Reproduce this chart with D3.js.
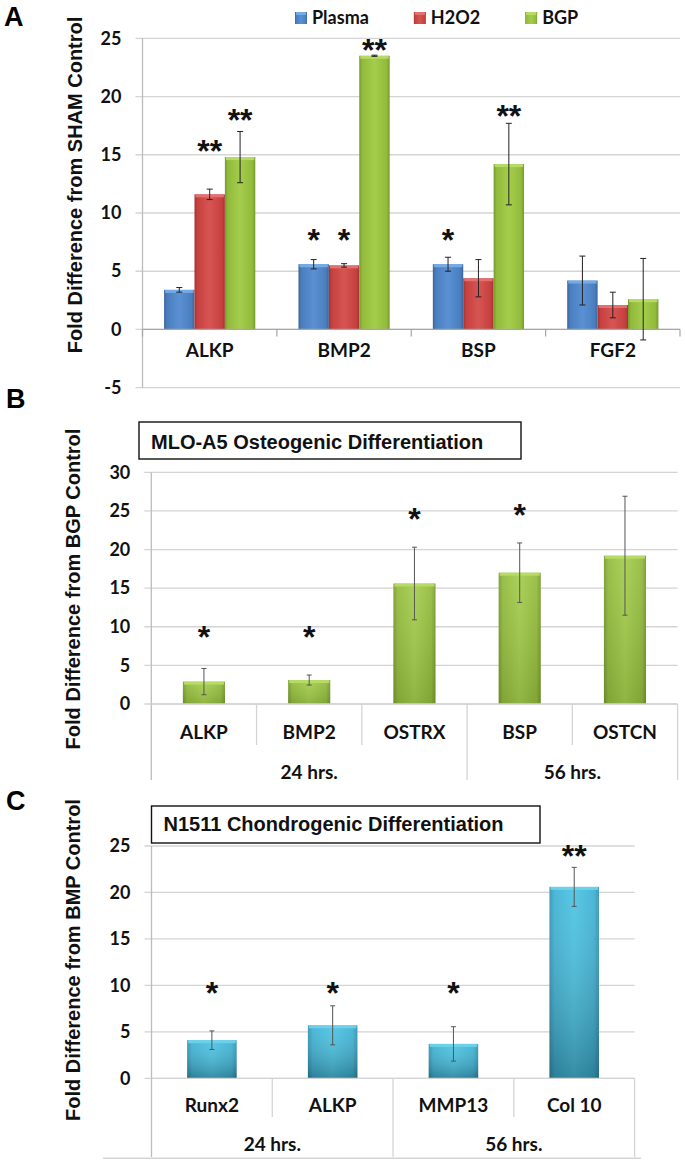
<!DOCTYPE html>
<html><head><meta charset="utf-8">
<script src="https://cdn.jsdelivr.net/npm/d3@7/dist/d3.min.js"></script>
<style>body{margin:0;background:#fff} svg{display:block}</style>
</head><body>
<svg id="chart" width="685" height="1163"></svg>
<script>
// ---------- Panel A data ----------
const catsA = ["ALKP", "BMP2", "BSP", "FGF2"];
const seriesA = ["Plasma", "H2O2", "BGP"];
const plasmaA = [3.4, 5.6, 5.6, 4.2];
const plasmaErrA = [0.2, 0.4, 0.6, 2.1];
const h2o2A = [11.6, 5.5, 4.4, 2.1];
const h2o2ErrA = [0.45, 0.15, 1.6, 1.1];
const bgpA = [14.8, 23.5, 14.2, 2.6];
const bgpErrA = [2.2, 0.05, 3.5, 3.5];
const plasmaSigA = ["", "*", "*", ""];
const plasmaSigLevelA = [null, 8.3, 8.3, null];
const h2o2SigA = ["**", "*", "", ""];
const h2o2SigLevelA = [16.0, 8.3, null, null];
const bgpSigA = ["**", "**", "**", ""];
const bgpSigLevelA = [18.6, 24.6, 19.0, null];
const ticksA = [-5, 0, 5, 10, 15, 20, 25];

// ---------- Panel B data ----------
const catsB = ["ALKP", "BMP2", "OSTRX", "BSP", "OSTCN"];
const groupLabelsB = ["24 hrs.", "56 hrs."];
const groupOfB = [0, 0, 0, 1, 1];
const valuesB = [2.9, 3.1, 15.6, 17.0, 19.2];
const errB = [1.7, 0.65, 4.7, 3.85, 7.7];
const sigB = ["*", "*", "*", "*", ""];
const sigLevelB = [9.6, 9.6, 24.9, 25.5, null];
const ticksB = [0, 5, 10, 15, 20, 25, 30];

// ---------- Panel C data ----------
const catsC = ["Runx2", "ALKP", "MMP13", "Col 10"];
const groupLabelsC = ["24 hrs.", "56 hrs."];
const groupOfC = [0, 0, 1, 1];
const valuesC = [4.1, 5.7, 3.7, 20.6];
const errC = [1.0, 2.1, 1.85, 2.1];
const sigC = ["*", "*", "*", "**"];
const sigLevelC = [10.0, 10.0, 10.0, 24.7];
const ticksC = [0, 5, 10, 15, 20, 25];

// ---------- styling ----------
const CAL = "Lato, 'Open Sans', sans-serif";
const ARB = "'Liberation Sans', Arial, sans-serif";
const GRID = "#d4d4d4";
const AXIS = "#bcbcbc";

const svg = d3.select("#chart");
const defs = svg.append("defs");

function hGrad(id, dark, base, light) {
  const g = defs.append("linearGradient").attr("id", id)
    .attr("x1", 0).attr("x2", 1).attr("y1", 0).attr("y2", 0);
  [[0, dark], [0.1, base], [0.5, light], [0.9, base], [1, dark]]
    .forEach(([o, c]) => g.append("stop").attr("offset", o).attr("stop-color", c));
}
function vShade(id, op) {
  const g = defs.append("linearGradient").attr("id", id)
    .attr("x1", 0).attr("x2", 0).attr("y1", 0).attr("y2", 1);
  g.append("stop").attr("offset", 0).attr("stop-color", "#fff").attr("stop-opacity", 0.08);
  g.append("stop").attr("offset", 1).attr("stop-color", "#000").attr("stop-opacity", op);
}
hGrad("gBlue", "#3b659c", "#4a7ebe", "#5a91d4");
hGrad("gRed", "#a53331", "#c6403e", "#d65553");
hGrad("gGreen", "#77992f", "#92bb3c", "#a4cd4c");
hGrad("gCyan", "#2f92b0", "#3cb1d3", "#49c3e3");
vShade("vsLight", 0.12);
vShade("vsStrong", 0.28);
const colorA = {Plasma: "url(#gBlue)", H2O2: "url(#gRed)", BGP: "url(#gGreen)"};
const capA = {Plasma: "#7aaee8", H2O2: "#e57674", BGP: "#b9de68"};

function drawBar(g, x, y0, y1, w, fill, cap, shade) {
  const top = Math.min(y0, y1), h = Math.abs(y1 - y0);
  g.append("rect").attr("x", x).attr("y", top).attr("width", w).attr("height", h).attr("fill", fill);
  if (shade) g.append("rect").attr("x", x).attr("y", top).attr("width", w).attr("height", h).attr("fill", shade);
  g.append("rect").attr("x", x + 1).attr("y", top).attr("width", w - 2).attr("height", Math.min(3, h)).attr("fill", cap).attr("opacity", 0.9);
}
function drawErr(g, cx, yTop, yBot, color, capW) {
  g.append("line").attr("x1", cx).attr("x2", cx).attr("y1", yTop).attr("y2", yBot).attr("stroke", color).attr("stroke-width", 1);
  [yTop, yBot].forEach(yy => g.append("line").attr("x1", cx - capW / 2).attr("x2", cx + capW / 2)
    .attr("y1", yy).attr("y2", yy).attr("stroke", color).attr("stroke-width", 1));
}
function drawStar(g, cx, cy, txt) {
  g.append("text").attr("x", cx).attr("y", cy + 18.5).attr("text-anchor", "middle")
    .attr("font-family", ARB).attr("font-weight", "bold").attr("font-size", 32).attr("fill", "#111").text(txt);
}
function yAxisTicks(g, y, ticks, L, R, tickOut) {
  g.append("g").selectAll("line").data(ticks).join("line")
    .attr("x1", L - tickOut).attr("x2", R).attr("y1", d => y(d)).attr("y2", d => y(d))
    .attr("stroke", GRID).attr("stroke-width", 1.3);
  const ax = g.append("g").attr("transform", `translate(${L - tickOut - 14},0)`)
    .call(d3.axisLeft(y).tickValues(ticks).tickSize(0).tickPadding(0).tickFormat(d => String(d)));
  ax.select(".domain").remove();
  ax.selectAll("text").attr("font-family", CAL).attr("font-weight", "bold").attr("font-size", 18).attr("fill", "#111");
}
function yTitle(g, cx, cy, txt) {
  g.append("text").attr("transform", `translate(${cx},${cy}) rotate(-90)`)
    .attr("text-anchor", "middle").attr("dy", "0.35em")
    .attr("font-family", ARB).attr("font-weight", "bold").attr("font-size", 20).attr("fill", "#111").text(txt);
}
function panelLetter(x, y, t) {
  svg.append("text").attr("x", x).attr("y", y).attr("font-family", ARB).attr("font-weight", "bold")
    .attr("font-size", 27).attr("fill", "#000").text(t);
}

// ================= PANEL A =================
(function () {
  const L = 142.5, R = 680;
  const g = svg.append("g");
  const y = d3.scaleLinear().domain([-5, 25]).range([387.7, 38.3]);
  const cell = d3.scaleBand().domain(catsA).range([L, R]);
  const x1 = d3.scaleBand().domain(seriesA).range([0, cell.bandwidth()]).paddingInner(0).paddingOuter(0.71);
  yAxisTicks(g, y, ticksA, L, R, 7);
  g.append("line").attr("x1", L).attr("x2", L).attr("y1", y(25)).attr("y2", y(-5)).attr("stroke", AXIS).attr("stroke-width", 1.3);
  const data = {Plasma: [plasmaA, plasmaErrA, plasmaSigA, plasmaSigLevelA],
                H2O2: [h2o2A, h2o2ErrA, h2o2SigA, h2o2SigLevelA],
                BGP: [bgpA, bgpErrA, bgpSigA, bgpSigLevelA]};
  seriesA.forEach(s => {
    const [vals] = data[s];
    catsA.forEach((c, i) => {
      drawBar(g, cell(c) + x1(s), y(0), y(vals[i]), x1.bandwidth(), colorA[s], capA[s], null);
    });
  });
  g.append("line").attr("x1", L).attr("x2", R).attr("y1", y(0)).attr("y2", y(0)).attr("stroke", "#a6a6a6").attr("stroke-width", 1.3);
  const bounds = catsA.map(c => cell(c)).concat([R]);
  g.append("g").selectAll("line").data(bounds).join("line")
    .attr("x1", d => d).attr("x2", d => d).attr("y1", y(0)).attr("y2", y(0) + 7)
    .attr("stroke", "#a6a6a6").attr("stroke-width", 1.2);
  seriesA.forEach(s => {
    const [vals, errs, sigs, lv] = data[s];
    catsA.forEach((c, i) => {
      const cx = cell(c) + x1(s) + x1.bandwidth() / 2;
      drawErr(g, cx, y(vals[i] + errs[i]), y(vals[i] - errs[i]), "#222", 6);
      if (sigs[i]) drawStar(g, cx, y(lv[i]), sigs[i]);
    });
  });
  g.append("g").selectAll("text").data(catsA).join("text")
    .attr("x", d => cell(d) + cell.bandwidth() / 2).attr("y", y(0) + 28).attr("text-anchor", "middle")
    .attr("font-family", CAL).attr("font-weight", "bold").attr("font-size", 19).attr("fill", "#111").text(d => d);
  yTitle(g, 75, 185, "Fold Difference from SHAM Control");
  const lg = g.append("g");
  let lx = 295;
  seriesA.forEach(s => {
    drawBar(lg, lx, 24, 12, 12, colorA[s], capA[s], null);
    const t = lg.append("text").attr("x", lx + 17).attr("y", 24).attr("font-family", CAL)
      .attr("font-weight", "bold").attr("font-size", 18).attr("fill", "#111").text(s);
    lx += 17 + t.node().getComputedTextLength() + 45;
  });
  panelLetter(4, 26, "A");
})();

// ============ generic grouped-category panel (B, C) ============
function groupedPanel(opt) {
  const {cats, groupOf, groupLabels, values, errs, sigs, sigLevels, ticks, L, R, yTop, y0, lineBottom,
         catSepBottom, catLabelY, groupLabelY, fill, shade, cap, title, box, titleBaseline, yTitleText, yTitleCY, barPadIn, barPadOut, capW} = opt;
  const g = svg.append("g");
  const y = d3.scaleLinear().domain([0, d3.max(ticks)]).range([y0, yTop]);
  const cell = d3.scaleBand().domain(cats).range([L, R]);
  const xb = d3.scaleBand().domain(cats).range([L, R]).paddingInner(barPadIn).paddingOuter(barPadOut);
  yAxisTicks(g, y, ticks, L, R, 7);
  g.append("line").attr("x1", L).attr("x2", L).attr("y1", y(d3.max(ticks))).attr("y2", lineBottom).attr("stroke", AXIS).attr("stroke-width", 1.3);
  g.append("line").attr("x1", R).attr("x2", R).attr("y1", y(0)).attr("y2", lineBottom).attr("stroke", GRID).attr("stroke-width", 1.3);
  cats.forEach((c, i) => {
    if (i === 0) return;
    const newGroup = groupOf[i] !== groupOf[i - 1];
    g.append("line").attr("x1", cell(c)).attr("x2", cell(c)).attr("y1", y(0))
      .attr("y2", newGroup ? lineBottom : catSepBottom).attr("stroke", GRID).attr("stroke-width", 1.3);
  });
  cats.forEach((c, i) => {
    drawBar(g, xb(c), y(0), y(values[i]), xb.bandwidth(), fill, cap, shade);
  });
  g.append("line").attr("x1", L).attr("x2", R).attr("y1", y(0)).attr("y2", y(0)).attr("stroke", GRID).attr("stroke-width", 1.3);
  cats.forEach((c, i) => {
    const cx = xb(c) + xb.bandwidth() / 2;
    drawErr(g, cx, y(values[i] + errs[i]), y(values[i] - errs[i]), "#555", capW);
    if (sigs[i]) drawStar(g, cx, y(sigLevels[i]), sigs[i]);
  });
  g.append("g").selectAll("text").data(cats).join("text")
    .attr("x", d => cell(d) + cell.bandwidth() / 2).attr("y", catLabelY).attr("text-anchor", "middle").attr("dy", "0.35em")
    .attr("font-family", CAL).attr("font-weight", "bold").attr("font-size", 19).attr("fill", "#111").text(d => d);
  groupLabels.forEach((gl, gi) => {
    const members = cats.filter((c, i) => groupOf[i] === gi);
    const x0 = cell(members[0]), x1 = cell(members[members.length - 1]) + cell.bandwidth();
    g.append("text").attr("x", (x0 + x1) / 2).attr("y", groupLabelY).attr("dy", "0.35em").attr("text-anchor", "middle")
      .attr("font-family", CAL).attr("font-weight", "bold").attr("font-size", 19).attr("fill", "#111").text(gl);
  });
  g.append("rect").attr("x", box[0]).attr("y", box[1]).attr("width", box[2]).attr("height", box[3])
    .attr("fill", "#fff").attr("stroke", "#111").attr("stroke-width", 1.4);
  g.append("text").attr("x", box[0] + 12).attr("y", titleBaseline).attr("font-family", ARB).attr("font-weight", "bold")
    .attr("font-size", 20).attr("fill", "#111").text(title);
  yTitle(g, 73, yTitleCY, yTitleText);
  return g;
}

groupedPanel({
  cats: catsB, groupOf: groupOfB, groupLabels: groupLabelsB, values: valuesB, errs: errB, sigs: sigB, sigLevels: sigLevelB,
  ticks: ticksB, L: 151.3, R: 677.6, yTop: 472.3, y0: 704, lineBottom: 780, catSepBottom: 745,
  catLabelY: 732.5, groupLabelY: 772, fill: "url(#gGreen)", shade: "url(#vsLight)", cap: "#b9de68",
  title: "MLO-A5 Osteogenic Differentiation", box: [139, 422, 382, 37], titleBaseline: 448.5,
  yTitleText: "Fold Difference from BGP Control", yTitleCY: 589, barPadIn: 0.6, barPadOut: 0.3, capW: 5
});
panelLetter(6, 408, "B");

const gC = groupedPanel({
  cats: catsC, groupOf: groupOfC, groupLabels: groupLabelsC, values: valuesC, errs: errC, sigs: sigC, sigLevels: sigLevelC,
  ticks: ticksC, L: 151.5, R: 634.6, yTop: 846, y0: 1078.3, lineBottom: 1157, catSepBottom: 1117,
  catLabelY: 1105, groupLabelY: 1144, fill: "url(#gCyan)", shade: "url(#vsStrong)", cap: "#6fd3ec",
  title: "N1511 Chondrogenic Differentiation", box: [151.5, 806, 388.5, 37], titleBaseline: 831,
  yTitleText: "Fold Difference from BMP Control", yTitleCY: 960, barPadIn: 0.59, barPadOut: 0.295, capW: 5
});
gC.append("line").attr("x1", 103).attr("x2", 641).attr("y1", 1158.3).attr("y2", 1158.3).attr("stroke", GRID).attr("stroke-width", 1.5);
panelLetter(6, 810, "C");
</script>
</body></html>
